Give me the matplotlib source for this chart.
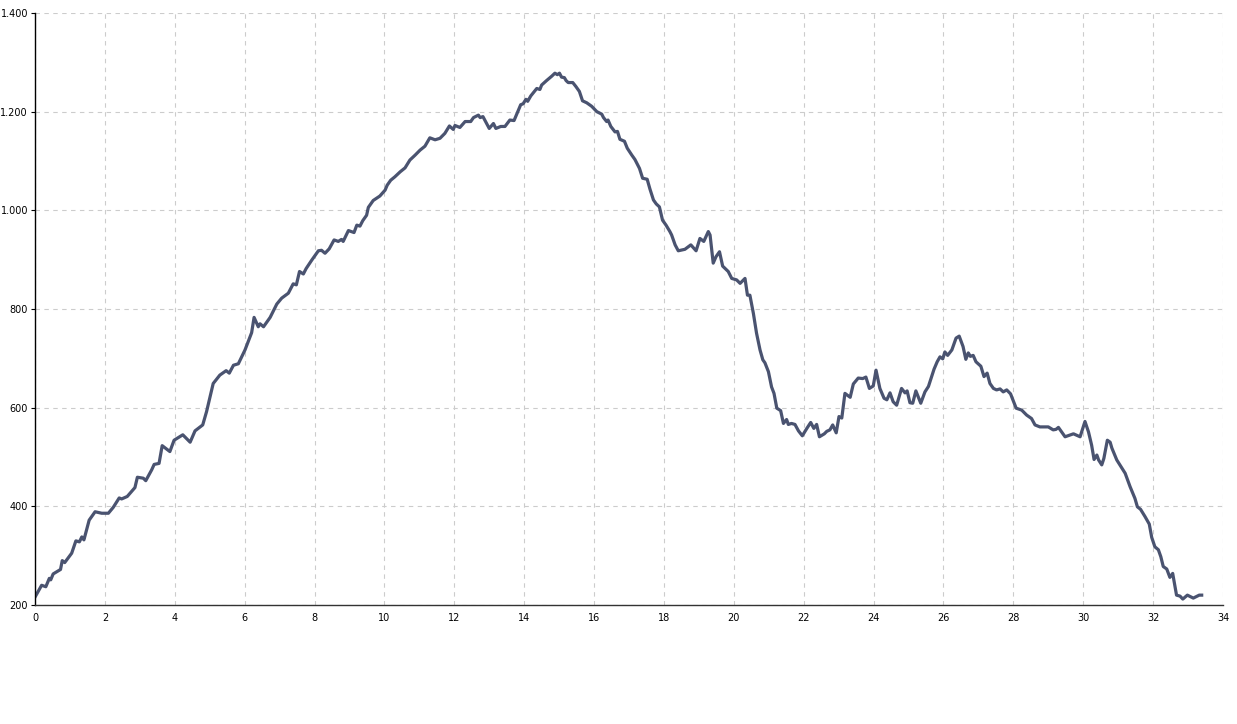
import matplotlib
matplotlib.use("Agg")
import matplotlib.pyplot as plt
from matplotlib.ticker import FuncFormatter, MultipleLocator

# ── Data (distance in km, elevation in m) ─────────────────────────────────────
km = [0.00, 0.19, 0.31, 0.41, 0.45, 0.52, 0.73, 0.78, 0.85, 1.05, 1.17, 1.27, 1.34, 1.40,
      1.55, 1.72, 1.91, 2.10, 2.24, 2.41, 2.48, 2.64, 2.86, 2.93, 3.10, 3.17, 3.34, 3.41,
      3.55, 3.64, 3.86, 3.98, 4.23, 4.44, 4.58, 4.80, 4.91, 4.99, 5.10, 5.29, 5.47, 5.56,
      5.68, 5.82, 6.01, 6.20, 6.27, 6.39, 6.44, 6.54, 6.73, 6.92, 7.06, 7.25, 7.39, 7.48,
      7.57, 7.68, 7.76, 7.92, 8.11, 8.20, 8.30, 8.42, 8.56, 8.68, 8.77, 8.82, 8.97, 9.13,
      9.21, 9.30, 9.38, 9.49, 9.54, 9.68, 9.87, 10.02, 10.08, 10.18, 10.30, 10.45, 10.59,
      10.73, 10.88, 11.02, 11.16, 11.30, 11.45, 11.59, 11.73, 11.86, 11.97, 12.02, 12.16,
      12.31, 12.47, 12.55, 12.69, 12.74, 12.82, 12.88, 13.00, 13.12, 13.19, 13.33, 13.45,
      13.59, 13.71, 13.80, 13.90, 13.97, 14.05, 14.10, 14.19, 14.36, 14.45, 14.50, 14.64,
      14.79, 14.88, 14.95, 15.01, 15.07, 15.15, 15.20, 15.26, 15.39, 15.48, 15.58, 15.67,
      15.79, 15.93, 16.08, 16.22, 16.27, 16.36, 16.40, 16.48, 16.60, 16.67, 16.74, 16.87,
      16.95, 17.08, 17.17, 17.30, 17.39, 17.52, 17.60, 17.70, 17.78, 17.87, 17.96, 18.06,
      18.17, 18.22, 18.32, 18.41, 18.60, 18.77, 18.92, 19.03, 19.14, 19.27, 19.32, 19.41,
      19.49, 19.59, 19.68, 19.84, 19.94, 20.08, 20.18, 20.32, 20.39, 20.46, 20.56, 20.65,
      20.75, 20.83, 20.89, 20.99, 21.08, 21.15, 21.23, 21.34, 21.42, 21.51, 21.56, 21.65,
      21.75, 21.85, 21.96, 22.09, 22.20, 22.29, 22.37, 22.45, 22.59, 22.66, 22.75, 22.83,
      22.93, 23.01, 23.09, 23.18, 23.33, 23.42, 23.56, 23.69, 23.78, 23.88, 23.99, 24.07,
      24.18, 24.30, 24.38, 24.47, 24.56, 24.66, 24.80, 24.90, 24.96, 25.04, 25.12, 25.21,
      25.35, 25.47, 25.57, 25.63, 25.73, 25.82, 25.90, 25.98, 26.04, 26.12, 26.24, 26.36,
      26.45, 26.56, 26.64, 26.71, 26.77, 26.85, 26.93, 27.07, 27.16, 27.25, 27.33, 27.43,
      27.52, 27.62, 27.71, 27.81, 27.92, 28.08, 28.24, 28.38, 28.52, 28.62, 28.76, 29.00,
      29.14, 29.22, 29.29, 29.48, 29.72, 29.91, 30.05, 30.15, 30.24, 30.31, 30.39, 30.44,
      30.53, 30.59, 30.69, 30.77, 30.82, 30.96, 31.11, 31.20, 31.34, 31.48, 31.55, 31.64,
      31.77, 31.89, 31.96, 32.05, 32.15, 32.22, 32.29, 32.39, 32.48, 32.56, 32.67, 32.77,
      32.85, 32.98, 33.15, 33.32, 33.39]

elev = [216, 240, 237, 254, 251, 263, 272, 290, 286, 305, 330, 328, 338, 332,
        372, 389, 386, 386, 398, 417, 415, 420, 438, 459, 457, 452, 474, 485,
        487, 523, 511, 534, 545, 530, 553, 565, 592, 616, 649, 666, 675, 670,
        686, 689, 717, 752, 783, 764, 770, 764, 783, 810, 822, 832, 851, 849,
        876, 871, 882, 899, 918, 919, 913, 922, 940, 937, 941, 937, 959, 955,
        970, 968, 979, 990, 1006, 1020, 1029, 1041, 1051, 1061, 1068, 1078, 1086,
        1102, 1112, 1122, 1130, 1147, 1143, 1146, 1156, 1171, 1164, 1172, 1168,
        1180, 1180, 1188, 1193, 1188, 1190, 1182, 1166, 1176, 1166, 1170, 1170,
        1183, 1182, 1197, 1214, 1216, 1225, 1221, 1232, 1247, 1245, 1254, 1263,
        1272, 1278, 1275, 1278, 1270, 1269, 1263, 1259, 1259, 1251, 1241, 1222,
        1218, 1211, 1200, 1195, 1188, 1180, 1183, 1170, 1159, 1160, 1144, 1140,
        1126, 1112, 1103, 1085, 1065, 1063, 1043, 1021, 1013, 1007, 980, 970,
        957, 950, 930, 918, 921, 930, 918, 943, 937, 957, 950, 893,
        906, 916, 887, 876, 862, 859, 852, 862, 828, 828, 791, 751,
        717, 697, 691, 673, 642, 629, 599, 594, 568, 576, 566, 568,
        566, 553, 543, 558, 570, 558, 566, 541, 547, 552, 555, 565,
        549, 582, 579, 629, 621, 648, 660, 659, 662, 639, 644, 676,
        639, 619, 616, 630, 612, 605, 639, 630, 634, 610, 609, 634,
        609, 632, 643, 656, 678, 693, 703, 699, 713, 706, 717, 741,
        745, 724, 698, 711, 704, 706, 693, 684, 663, 670, 649, 639,
        636, 638, 632, 636, 628, 599, 595, 585, 578, 565, 561, 561,
        555, 556, 560, 541, 547, 541, 572, 551, 524, 495, 504, 494,
        484, 497, 534, 530, 518, 494, 477, 467, 440, 416, 399, 394,
        379, 364, 337, 318, 312, 298, 278, 273, 256, 264, 220, 218,
        212, 220, 214, 220, 220]

x_ticks = list(range(0, 35, 2))
y_ticks = list(range(200, 1401, 200))

# ── Plot ──────────────────────────────────────────────────────────────────────
fig = plt.figure(figsize=(12.37, 7.24), dpi=100)
ax = fig.add_axes([35 / 1237, (724 - 605) / 724, (1223 - 35) / 1237, (605 - 13) / 724])

ax.plot(km, elev, color="#4a5370", linewidth=2.3, solid_joinstyle="round")

ax.set_xlim(0, 34)
ax.set_ylim(200, 1400)
ax.set_xticks(x_ticks)
ax.set_yticks(y_ticks)
ax.yaxis.set_major_formatter(FuncFormatter(lambda v, p: f"{int(v):,}".replace(",", ".")))

ax.grid(True, color="#cccccc", linestyle=(0, (4, 4)), linewidth=0.8)
ax.set_axisbelow(True)

for s in ["top", "right"]:
    ax.spines[s].set_visible(False)
ax.spines["left"].set_color("black")
ax.spines["bottom"].set_color("#333333")
ax.spines["left"].set_linewidth(1.0)
ax.spines["bottom"].set_linewidth(1.0)

ax.tick_params(axis="both", labelsize=7, length=3, width=0.8, colors="black")
ax.tick_params(axis="x", length=0, pad=6)
ax.tick_params(axis="y", pad=2)

fig.savefig("out.png", dpi=100)
